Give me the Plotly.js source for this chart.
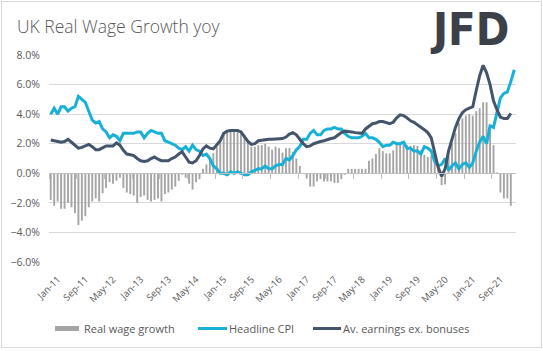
<!DOCTYPE html>
<html>
<head>
<meta charset="utf-8">
<script src="https://cdn.plot.ly/plotly-3.0.1.min.js"></script>
<style>
  html, body { margin: 0; padding: 0; background: #ffffff; }
  #wrap { position: relative; width: 543px; height: 351px; }
  #chart { width: 543px; height: 351px; }
  #frame { position: absolute; left: 1px; top: 1px; width: 541px; height: 347px;
           border: 1px solid #d9d9d9; box-sizing: border-box; pointer-events: none; }
</style>
</head>
<body>
<div id="wrap"><div id="chart"></div><div id="frame"></div></div>
<script>
// ---- categories (monthly, Jan-11 .. Mar-22) ----
const monthNames = ['Jan','Feb','Mar','Apr','May','Jun','Jul','Aug','Sep','Oct','Nov','Dec'];
const categories = [];
for (let i = 0; i < 135; i++) {
  categories.push(monthNames[i % 12] + '-' + String(11 + Math.floor(i / 12)));
}

// ---- tick labels shown on the x axis ----
const tickLabels = ['Jan-11','Sep-11','May-12','Jan-13','Sep-13','May-14','Jan-15','Sep-15',
  'May-16','Jan-17','Sep-17','May-18','Jan-19','Sep-19','May-20','Jan-21','Sep-21'];

// ---- series (% yoy) ----
const realWageGrowth = [
  -1.8,-2.2,-1.9,-2.4,-2.4,-2.0,-2.3,-2.7,-3.5,-3.2,-2.9,-2.3,
  -1.9,-1.7,-1.9,-1.35,-1.0,-0.6,-0.7,-0.5,-0.3,-1.0,-1.3,-1.4,
  -1.5,-2.0,-1.6,-1.5,-1.8,-1.9,-1.8,-1.7,-1.9,-1.4,-1.3,-1.1,
  -0.9,-0.5,-0.1,-0.3,-0.7,-1.1,-0.6,-0.4,0.3,0.6,1.0,1.35,
  1.8,2.2,2.6,2.8,2.9,2.9,2.9,2.8,2.6,2.2,1.8,1.8,
  1.9,1.9,2.0,1.8,1.6,1.8,1.7,1.4,1.7,1.7,1.45,1.0,
  0.5,-0.05,-0.35,-0.9,-0.9,-0.55,-0.4,-0.55,-0.55,-0.55,-0.65,-0.65,
  -0.4,-0.1,0.3,0.3,0.3,0.3,0.3,0.3,0.85,1.0,1.3,1.7,
  1.5,1.35,1.35,1.55,1.9,2.1,2.0,1.9,1.85,1.9,1.85,1.55,
  1.25,1.1,1.2,0.7,0.3,-0.8,-0.75,1.2,2.0,2.7,3.4,3.7,
  3.9,4.0,3.9,4.2,4.4,4.8,4.8,2.9,1.9,0.05,-1.3,-1.7,
  -1.7,-2.2
];
const headlineCPI = [
  4.0,4.4,4.0,4.5,4.5,4.2,4.4,4.5,5.2,5.0,4.8,4.2,
  3.6,3.4,3.5,3.0,2.8,2.4,2.6,2.5,2.2,2.7,2.7,2.7,
  2.7,2.8,2.8,2.4,2.7,2.9,2.8,2.7,2.7,2.2,2.1,2.0,
  1.9,1.7,1.6,1.8,1.5,1.9,1.6,1.5,1.2,1.3,1.0,0.5,
  0.3,0.0,0.0,-0.1,0.1,0.0,0.1,0.0,-0.1,-0.1,0.1,0.2,
  0.3,0.3,0.5,0.3,0.3,0.5,0.6,0.6,1.0,0.9,1.2,1.6,
  1.8,2.3,2.3,2.7,2.9,2.6,2.6,2.9,3.0,3.0,3.1,3.0,
  3.0,2.7,2.5,2.4,2.4,2.4,2.5,2.7,2.4,2.4,2.3,2.1,
  1.8,1.9,1.9,2.1,2.0,2.0,2.1,1.7,1.7,1.5,1.5,1.3,
  1.8,1.7,1.5,0.8,0.5,0.6,1.0,0.2,0.5,0.7,0.3,0.6,
  0.7,0.4,0.7,1.5,2.1,2.5,2.0,3.2,3.1,4.2,5.1,5.4,
  5.5,6.2,7.0
];
const avEarningsExBonus = [
  2.25,2.2,2.1,2.1,2.15,2.3,2.1,1.9,1.7,1.75,1.85,1.95,
  1.8,1.6,1.6,1.7,1.85,1.85,1.85,2.05,1.9,1.55,1.3,1.25,
  1.2,1.0,0.85,0.8,0.85,1.0,1.1,0.95,0.85,0.85,0.85,1.0,
  1.1,1.3,1.45,1.1,0.75,0.7,0.85,1.2,1.65,1.85,1.7,1.65,
  1.9,2.2,2.7,2.85,2.9,2.9,2.9,2.8,2.5,2.15,1.95,2.0,
  2.2,2.25,2.3,2.3,2.3,2.3,2.3,2.35,2.45,2.65,2.75,2.6,
  2.3,2.0,1.8,1.85,2.0,2.1,2.15,2.2,2.3,2.35,2.4,2.6,
  2.75,2.85,2.85,2.8,2.75,2.75,2.7,3.0,3.2,3.35,3.4,3.5,
  3.5,3.4,3.35,3.45,3.75,3.95,3.9,3.75,3.55,3.45,3.3,3.15,
  2.95,2.75,2.4,1.4,0.4,-0.2,0.3,1.5,2.4,3.1,3.7,4.1,
  4.3,4.4,4.5,5.6,6.6,7.3,6.8,6.0,4.9,4.3,3.8,3.7,
  3.7,4.05
];

// ---- geometry helpers ----
const W = 543, H = 351, L = 49, R = 27, T = 55, B = 89;
const plotW = W - L - R, plotH = H - T - B;
const px2x = px => (px - L) / plotW;
const px2y = py => (H - B - py) / plotH;

const idx = categories.map((c, i) => i);
const tickvals = tickLabels.map(t => categories.indexOf(t));
const tickBounds = tickvals.map(v => v - 0.5);
const xRange = [-0.5, categories.length - 0.5];
const yMin = -6, yMax = 8;

const C_BAR = '#a5a5a5', C_CPI = '#17b1d8', C_AWE = '#44546a', C_TXT = '#595959';
const FONT = 'Open Sans, Liberation Sans, sans-serif';

const traces = [
  { type: 'bar', name: 'Real wage growth', x: idx.slice(0, realWageGrowth.length),
    y: realWageGrowth, text: categories.slice(0, realWageGrowth.length), textposition: 'none',
    marker: { color: C_BAR }, width: 0.55, xaxis: 'x', yaxis: 'y', showlegend: false },
  { type: 'scatter', mode: 'lines', name: 'Headline CPI', x: idx.slice(0, headlineCPI.length),
    y: headlineCPI, line: { color: C_CPI, width: 3 }, xaxis: 'x2', yaxis: 'y', showlegend: false },
  { type: 'scatter', mode: 'lines', name: 'Av. earnings ex. bonuses', x: idx.slice(0, avEarningsExBonus.length),
    y: avEarningsExBonus, line: { color: C_AWE, width: 3 }, xaxis: 'x2', yaxis: 'y', showlegend: false }
];

// legend (drawn manually to match the original's swatches)
const legY = px2y(328.5);
const shapes = [
  { type: 'rect', xref: 'paper', yref: 'paper', x0: px2x(55), x1: px2x(79), y0: px2y(331), y1: px2y(326),
    fillcolor: C_BAR, line: { width: 0 } },
  { type: 'line', xref: 'paper', yref: 'paper', x0: px2x(198), x1: px2x(227), y0: legY, y1: legY,
    line: { color: C_CPI, width: 3 } },
  { type: 'line', xref: 'paper', yref: 'paper', x0: px2x(313), x1: px2x(341), y0: legY, y1: legY,
    line: { color: C_AWE, width: 3 } }
];
const legFont = { family: FONT, size: 11, color: C_TXT };
const annotations = [
  { xref: 'paper', yref: 'paper', x: px2x(82), y: legY, xanchor: 'left', yanchor: 'middle',
    text: 'Real wage growth', showarrow: false, font: legFont },
  { xref: 'paper', yref: 'paper', x: px2x(227), y: legY, xanchor: 'left', yanchor: 'middle',
    text: 'Headline CPI', showarrow: false, font: legFont },
  { xref: 'paper', yref: 'paper', x: px2x(341), y: legY, xanchor: 'left', yanchor: 'middle',
    text: 'Av. earnings ex. bonuses', showarrow: false, font: legFont },
  { xref: 'paper', yref: 'paper', x: px2x(511), y: px2y(29), xanchor: 'right', yanchor: 'middle',
    text: '<b>JFD</b>', showarrow: false,
    font: { family: 'DejaVu Sans Condensed, DejaVu Sans, sans-serif', size: 45, color: '#3b4049' } }
];

const layout = {
  width: W, height: H,
  margin: { l: L, r: R, t: T, b: B, pad: 0 },
  paper_bgcolor: '#ffffff', plot_bgcolor: '#ffffff',
  title: { text: 'UK Real Wage Growth yoy', xref: 'container', yref: 'container',
           x: 17 / W, xanchor: 'left', y: 1 - 27 / H, yanchor: 'middle',
           font: { family: FONT, size: 17.5, color: C_TXT, weight: 300 } },
  showlegend: false,
  bargap: 0.4,
  xaxis: { range: xRange, tickmode: 'array', tickvals: tickvals, ticktext: tickLabels,
           tickangle: -45, ticks: '', showgrid: false, zeroline: false, showline: false,
           tickfont: { family: FONT, size: 9.5, color: C_TXT }, ticklabelstandoff: 9,
           ticklabelshift: 7, fixedrange: true },
  xaxis2: { overlaying: 'x', anchor: 'free', position: (0 - yMin) / (yMax - yMin), range: xRange,
            showline: true, linecolor: '#bfbfbf', linewidth: 1, ticks: 'outside', ticklen: 5,
            tickcolor: '#bfbfbf', tickwidth: 1, tickmode: 'array', tickvals: tickBounds,
            showticklabels: false, showgrid: false, zeroline: false, fixedrange: true },
  yaxis: { range: [yMin, yMax], tickmode: 'linear', tick0: 0, dtick: 2, tickformat: '.1f', ticksuffix: '%',
           gridcolor: '#d9d9d9', gridwidth: 1, zeroline: false, showline: false,
           tickfont: { family: FONT, size: 10.5, color: C_TXT }, ticklabelstandoff: 8, fixedrange: true },
  shapes: shapes,
  annotations: annotations
};

Plotly.newPlot('chart', traces, layout, { displayModeBar: false, staticPlot: true });
</script>
</body>
</html>
